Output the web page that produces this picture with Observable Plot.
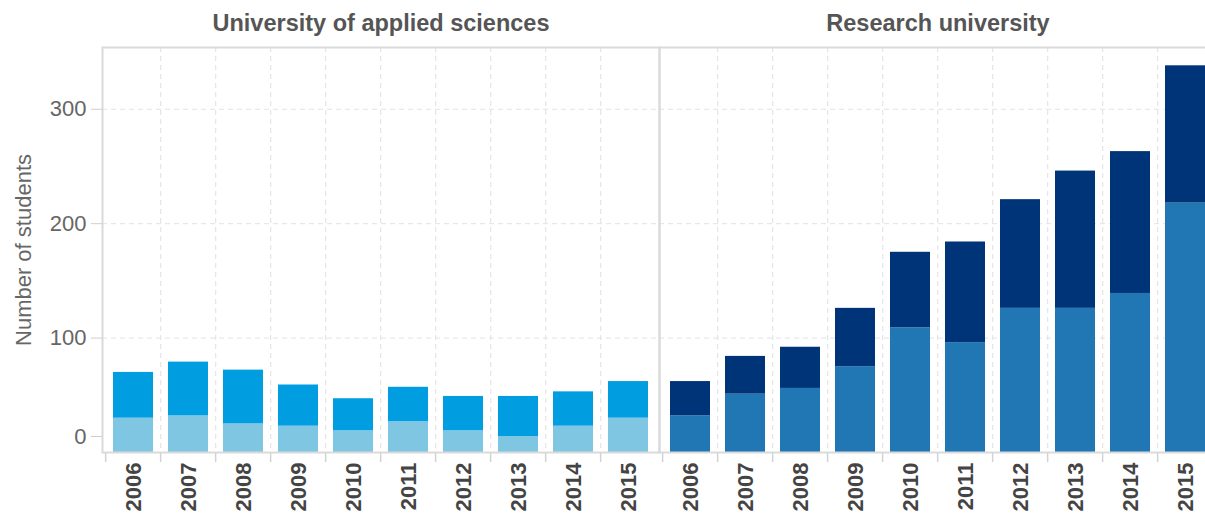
<!DOCTYPE html>
<html><head><meta charset="utf-8">
<script src="https://cdn.jsdelivr.net/npm/d3@7"></script>
<script src="https://cdn.jsdelivr.net/npm/@observablehq/plot@0.6"></script>
<style>
html,body{margin:0;padding:0;background:#fff;overflow:hidden}
</style></head><body><div id="chart"></div>
<script>
const years = ["2006","2007","2008","2009","2010","2011","2012","2013","2014","2015"];
const types = ["University of applied sciences", "Research university"];
const segKeys = ["UAS base", "UAS top", "RU base", "RU top"];
const segColors = ["#7ec6e2", "#009de0", "#2177b4", "#003478"];
// University of applied sciences: lower segment and upper segment
const uasLower = [30, 32, 25, 23, 19, 27, 19, 14, 23, 30];
const uasUpper = [40, 47, 47, 36, 28, 30, 30, 35, 30, 32];
// Research university: lower segment and upper segment
const ruLower = [32, 51, 56, 75, 109, 96, 126, 126, 139, 218];
const ruUpper = [30, 33, 36, 51, 66, 88, 95, 120, 124, 120];
const yTicks = [100, 200, 300];
const yZero = [0];

const rows = [];
years.forEach((yr, i) => {
  rows.push({type: types[0], year: yr, seg: segKeys[0], value: uasLower[i]});
  rows.push({type: types[0], year: yr, seg: segKeys[1], value: uasUpper[i]});
  rows.push({type: types[1], year: yr, seg: segKeys[2], value: ruLower[i]});
  rows.push({type: types[1], year: yr, seg: segKeys[3], value: ruUpper[i]});
});
const yearRows = [];
types.forEach(t => years.forEach(y => yearRows.push({type: t, year: y})));

const W = 1216, H = 516, ML = 101, MR = 0, MT = 47, MB = 64;
const pIn = 0.264, pOut = 0.132;
const panelW = (W - ML - MR) / types.length;
const step = panelW / (years.length - pIn + 2 * pOut);
const half = step / 2;
const font = "'Liberation Sans', Arial, sans-serif";

const chart = Plot.plot({
  width: W, height: H,
  marginLeft: ML, marginRight: MR, marginTop: MT, marginBottom: MB,
  style: {fontFamily: font, background: "#fff", maxWidth: "none"},
  fx: {domain: types, padding: 0, label: null},
  x: {domain: years, paddingInner: pIn, paddingOuter: pOut, label: null},
  y: {domain: [0, 354], label: "Number of students"},
  color: {domain: segKeys, range: segColors},
  marks: [
    Plot.gridY({ticks: yTicks, stroke: "#e3e3e3", strokeOpacity: 1, strokeDasharray: "5,4", strokeWidth: 1}),
    Plot.ruleX(yearRows.filter(d => d.year !== years[0]), {fx: "type", x: "year", dx: -half, stroke: "#e6e6e6", strokeDasharray: "5,4", strokeWidth: 1.3}),
    Plot.ruleX(yearRows, {fx: "type", x: "year", y1: 0, y2: 0, insetBottom: -10, dx: -half, stroke: "#d2d2d2", strokeWidth: 1.5}),
    Plot.barY(rows, {fx: "type", x: "year", y: "value", fill: "seg"}),
    Plot.frame({stroke: "#dadada", strokeWidth: 2}),
    Plot.axisY({ticks: yTicks, tickSize: 11, tickPadding: 5, stroke: "#cfcfcf", fill: "#666", fontSize: 22,
      label: "Number of students", labelAnchor: "center", labelArrow: "none", labelOffset: 87}),
    Plot.axisY({ticks: yZero, tickSize: 11, tickPadding: 5, stroke: "#cfcfcf", fill: "#666", fontSize: 22, dy: -16, label: null}),
    Plot.axisX({tickSize: 0, tickPadding: 10, tickRotate: -90, fill: "#444", fontSize: 22, fontWeight: "bold", label: null}),
    Plot.axisFx({anchor: "top", tickSize: 0, tickPadding: 17, fill: "#555", fontSize: 23.5, fontWeight: "bold", label: null})
  ]
});
chart.style.maxWidth = "none";
document.getElementById("chart").appendChild(chart);
</script></body></html>
